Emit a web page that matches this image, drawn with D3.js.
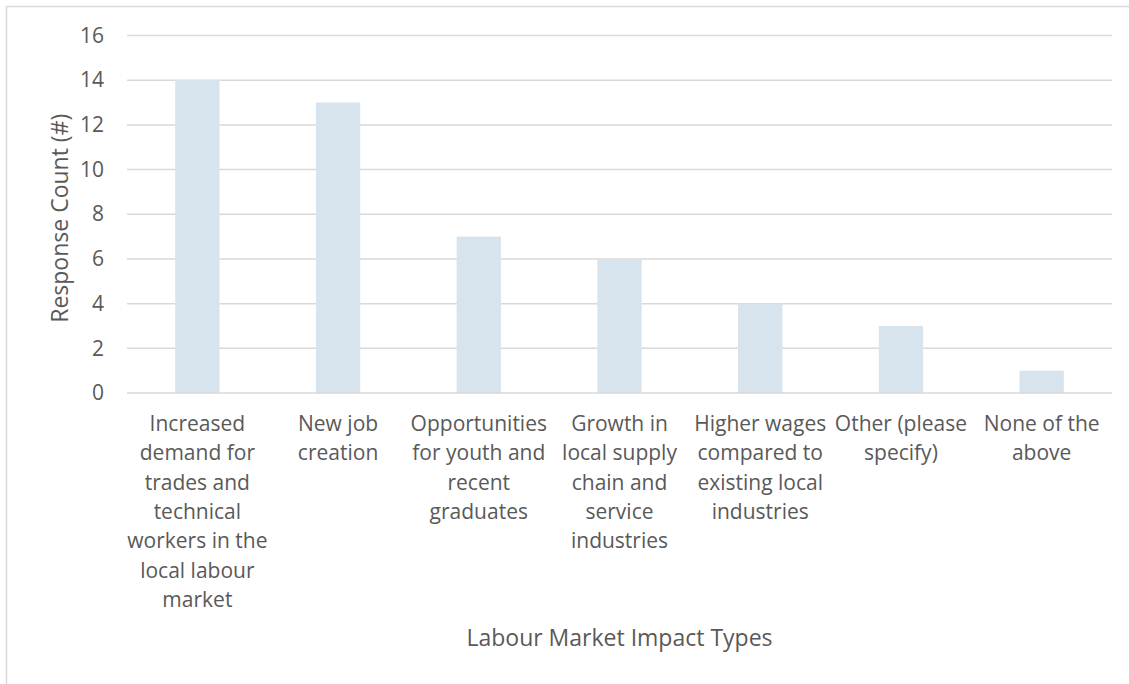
<!DOCTYPE html>
<html>
<head>
<meta charset="utf-8">
<script src="https://cdn.jsdelivr.net/npm/d3@7"></script>
<style>
  html, body { margin: 0; padding: 0; background: #fff; }
  svg { display: block; }
  text { font-family: "Open Sans", "Noto Sans", sans-serif; fill: #595959; }
</style>
</head>
<body>
<svg id="chart" width="1129" height="684"></svg>
<script>
// Survey responses per labour market impact type
const categories = [
  "Increased demand for trades and technical workers in the local labour market",
  "New job creation",
  "Opportunities for youth and recent graduates",
  "Growth in local supply chain and service industries",
  "Higher wages compared to existing local industries",
  "Other (please specify)",
  "None of the above"
];
const categoryLines = [
  ["Increased", "demand for", "trades and", "technical", "workers in the", "local labour", "market"],
  ["New job", "creation"],
  ["Opportunities", "for youth and", "recent", "graduates"],
  ["Growth in", "local supply", "chain and", "service", "industries"],
  ["Higher wages", "compared to", "existing local", "industries"],
  ["Other (please", "specify)"],
  ["None of the", "above"]
];
const responseCounts = [14, 13, 7, 6, 4, 3, 1];
const yTicks = [0, 2, 4, 6, 8, 10, 12, 14, 16];
const xTitle = "Labour Market Impact Types";
const yTitle = "Response Count (#)";

const svg = d3.select("#chart");
const plot = { left: 127, right: 1112, top: 35.5, bottom: 393 };
const fontSize = 21;
const titleSize = 23;
const lineGap = 29.3;

// chart frame
svg.append("rect")
  .attr("x", 6.5).attr("y", 6.5)
  .attr("width", 1140).attr("height", 700)
  .attr("fill", "none").attr("stroke", "#d9d9d9").attr("stroke-width", 1.5);

const x = d3.scaleBand().domain(categories).range([plot.left, plot.right]).padding(0);
const y = d3.scaleLinear().domain([0, 16]).range([plot.bottom, plot.top]);
const barWidth = x.bandwidth() * 0.315;

// horizontal gridlines
svg.append("g")
  .selectAll("line")
  .data(yTicks.filter(d => d > 0))
  .join("line")
  .attr("x1", plot.left).attr("x2", plot.right)
  .attr("y1", d => y(d)).attr("y2", d => y(d))
  .attr("stroke", "#d9d9d9").attr("stroke-width", 1.5);

// bars
svg.append("g")
  .selectAll("rect")
  .data(categories)
  .join("rect")
  .attr("x", d => x(d) + (x.bandwidth() - barWidth) / 2)
  .attr("width", barWidth)
  .attr("y", (d, i) => y(responseCounts[i]))
  .attr("height", (d, i) => y(0) - y(responseCounts[i]))
  .attr("fill", "#d7e4ee");

// category axis line
svg.append("line")
  .attr("x1", plot.left).attr("x2", plot.right)
  .attr("y1", y(0)).attr("y2", y(0))
  .attr("stroke", "#d9d9d9").attr("stroke-width", 1.5);

// value axis labels
const yAxis = d3.axisLeft(y).tickValues(yTicks).tickSize(0).tickPadding(0).tickFormat(d3.format("d"));
const gy = svg.append("g").attr("transform", `translate(104,0)`).call(yAxis);
gy.select(".domain").remove();
gy.selectAll("text")
  .attr("font-size", fontSize)
  .attr("font-family", "'Open Sans', sans-serif")
  .attr("fill", "#595959");

// category labels, wrapped over several lines
const xAxis = d3.axisBottom(x).tickSize(0).tickPadding(0).tickFormat("");
const gx = svg.append("g").attr("transform", `translate(0,${y(0)})`).call(xAxis);
gx.select(".domain").remove();
gx.selectAll(".tick").each(function(d, i) {
  const t = d3.select(this).append("text")
    .attr("text-anchor", "middle")
    .attr("font-size", fontSize)
    .style("fill", "#595959");
  categoryLines[i].forEach((line, j) => {
    t.append("tspan").attr("x", 0).attr("y", 38 + j * lineGap).text(line);
  });
});

// axis titles
svg.append("text")
  .attr("x", (plot.left + plot.right) / 2).attr("y", 646)
  .attr("text-anchor", "middle")
  .attr("font-size", titleSize)
  .text(xTitle);

svg.append("text")
  .attr("transform", `translate(68,${(plot.top + plot.bottom) / 2 + 4}) rotate(-90)`)
  .attr("text-anchor", "middle")
  .attr("font-size", titleSize)
  .text(yTitle);
</script>
</body>
</html>
